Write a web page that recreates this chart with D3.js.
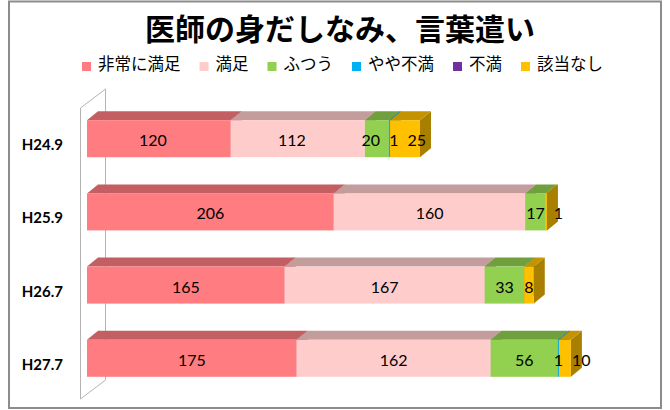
<!DOCTYPE html>
<html>
<head>
<meta charset="utf-8">
<script src="https://cdn.jsdelivr.net/npm/d3@7"></script>
<style>
  body { margin: 0; background: #fff; }
  svg { display: block; }
</style>
</head>
<body>
<svg width="670" height="410"></svg>
<script>
// chart data
var categories = ["H24.9", "H25.9", "H26.7", "H27.7"];
var seriesNames = ["非常に満足", "満足", "ふつう", "やや不満", "不満", "該当なし"];
var seriesColors = ["#FF7C80", "#FFCCCC", "#92D050", "#00B0F0", "#7030A0", "#FFC000"];
var verySatisfied = [120, 206, 165, 175];
var satisfied = [112, 160, 167, 162];
var neutral = [20, 17, 33, 56];
var slightlyDissatisfied = [1, 0, 0, 1];
var dissatisfied = [0, 0, 0, 0];
var notApplicable = [25, 1, 8, 10];
var titleText = "医師の身だしなみ、言葉遣い";

var seriesValues = [verySatisfied, satisfied, neutral, slightlyDissatisfied, dissatisfied, notApplicable];

// build rows for d3.stack
var rows = categories.map(function (c, i) {
    var r = { category: c };
    seriesNames.forEach(function (s, j) { r[s] = seriesValues[j][i]; });
    return r;
});

var svg = d3.select('svg');
var dx = 11, dy = 9; // 3d depth of the bars

// outer frame
svg.append('rect')
    .attr('x', 9).attr('y', 1.5)
    .attr('width', 652).attr('height', 406.5)
    .attr('fill', '#fff')
    .attr('stroke', '#8c8c8c')
    .attr('stroke-width', 2);

// title
svg.append('text')
    .attr('x', 340).attr('y', 27)
    .attr('text-anchor', 'middle')
    .attr('dominant-baseline', 'central')
    .style('font-family', '"Noto Sans CJK JP", sans-serif')
    .style('font-weight', 'bold')
    .style('font-size', '30px')
    .text(titleText);

// legend
var legend = svg.append('g');
var items = legend.selectAll('g').data(seriesNames).join('g');
items.append('rect')
    .attr('width', 9).attr('height', 9)
    .attr('y', 62)
    .attr('fill', function (d, i) { return seriesColors[i]; });
items.append('text')
    .attr('x', 16).attr('y', 63)
    .attr('dominant-baseline', 'central')
    .style('font-family', '"Noto Sans CJK JP", sans-serif')
    .style('font-size', '16.5px')
    .text(function (d) { return d; });
var offsets = [], cur = 0;
items.each(function () {
    var w = 16 + this.querySelector('text').getComputedTextLength();
    offsets.push({ x: cur, w: w });
    cur += w + 19;
});
var legendW = cur - 19;
var legendX = 342.5 - legendW / 2;
items.attr('transform', function (d, i) { return 'translate(' + (legendX + offsets[i].x) + ',0)'; });

// scales
var xScale = d3.scaleLinear().domain([0, 450]).range([87, 626]);
var yScale = d3.scaleBand().domain(categories).range([100, 397])
    .paddingInner(0.4945).paddingOuter(0.276);

// side wall
var wx0 = xScale(0) - 6.5, wx1 = wx0 + 25;
var wy0 = yScale.range()[0] + 8, wy1 = yScale.range()[1] + 2;
svg.append('path')
    .attr('d', 'M' + wx0 + ',' + wy0 + 'L' + wx1 + ',' + (wy0 - 19) +
               'L' + wx1 + ',' + (wy1 - 19) + 'L' + wx0 + ',' + wy1 + 'Z')
    .attr('fill', 'none')
    .attr('stroke', '#b4b4b4')
    .attr('stroke-width', 1);

// category labels
svg.append('g').selectAll('text').data(categories).join('text')
    .attr('x', 63)
    .attr('y', function (d) { return yScale(d) + yScale.bandwidth() / 2 + 5.5; })
    .attr('text-anchor', 'end')
    .attr('dominant-baseline', 'central')
    .style('font-family', 'Lato, sans-serif')
    .style('font-weight', 'bold')
    .style('font-size', '15px')
    .text(function (d) { return d; });

var stack = d3.stack().keys(seriesNames);
var stacked = stack(rows);

var bars = svg.append('g');
categories.forEach(function (cat, ci) {
    var y0 = yScale(cat), h = yScale.bandwidth();
    var g = bars.append('g');
    stacked.forEach(function (layer, si) {
        var seg = layer[ci];
        if (seg[1] - seg[0] <= 0) return;
        var a = xScale(seg[0]), b = xScale(seg[1]);
        var col = d3.color(seriesColors[si]);
        // side
        g.append('path')
            .attr('d', 'M' + b + ',' + y0 + 'L' + (b + dx) + ',' + (y0 - dy) +
                       'L' + (b + dx) + ',' + (y0 + h - dy) + 'L' + b + ',' + (y0 + h) + 'Z')
            .attr('fill', col.darker(1.15));
        // top
        g.append('path')
            .attr('d', 'M' + a + ',' + y0 + 'L' + (a + dx) + ',' + (y0 - dy) +
                       'L' + (b + dx) + ',' + (y0 - dy) + 'L' + b + ',' + y0 + 'Z')
            .attr('fill', col.darker(0.75));
        // front
        g.append('rect')
            .attr('x', a).attr('y', y0)
            .attr('width', b - a).attr('height', h)
            .attr('fill', col);
    });

    // value labels, pushed apart when they collide
    var labels = [];
    stacked.forEach(function (layer) {
        var seg = layer[ci];
        var v = seg[1] - seg[0];
        if (v <= 0) return;
        var t = g.append('text')
            .attr('y', y0 + h / 2 + 1)
            .attr('text-anchor', 'middle')
            .attr('dominant-baseline', 'central')
            .style('font-family', 'Lato, sans-serif')
            .style('font-size', '16px')
            .text(v);
        labels.push({ t: t, cx: (xScale(seg[0]) + xScale(seg[1])) / 2, w: t.node().getComputedTextLength() });
    });
    var moved = false;
    for (var k = 1; k < labels.length; k++) {
        var p = labels[k - 1], q = labels[k];
        var need = p.cx + (p.w + q.w) / 2 + 9;
        if (q.cx < need) { q.cx = need; if (k >= 2 && labels[k - 1].pushed) moved = true; q.pushed = true; }
    }
    // a run of three crowded labels is spread a bit to the left too
    if (moved) labels.forEach(function (l) { l.cx -= 6; });
    labels.forEach(function (l) { l.t.attr('x', l.cx); });
});
</script>
</body>
</html>
